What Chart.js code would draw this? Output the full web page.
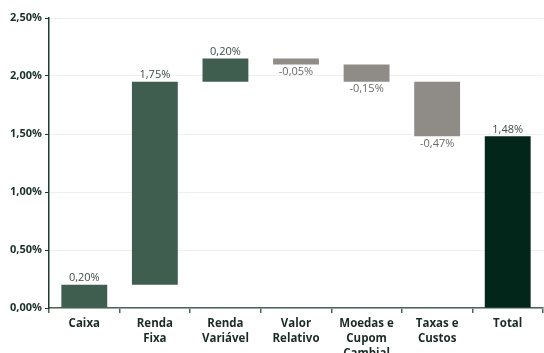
<!DOCTYPE html>
<html>
<head>
<meta charset="utf-8">
<script src="https://cdn.jsdelivr.net/npm/chart.js@4.4.1/dist/chart.umd.min.js"></script>
<style>
  html, body { margin: 0; padding: 0; background: #fff; overflow: hidden; }
  #wrap { position: relative; width: 544px; height: 353px; }
</style>
</head>
<body>
<div id="wrap"><canvas id="chart1"></canvas></div>
<script>
// categorias e contribuicoes (em %)
var categories = [['Caixa'], ['Renda', 'Fixa'], ['Renda', 'Variável'], ['Valor', 'Relativo'], ['Moedas e', 'Cupom', 'Cambial'], ['Taxas e', 'Custos'], ['Total']];
var deltas = [0.20, 1.75, 0.20, -0.05, -0.15, -0.47];
var total = 1.48;
var yTicks = [0, 0.5, 1.0, 1.5, 2.0, 2.5];

var green = '#3f5e50', gray = '#8f8b87', dark = '#03261a';

// monta as barras flutuantes [inicio, fim]
var ranges = [], colors = [], labels = [], run = 0;
for (var i = 0; i < deltas.length; i++) {
    ranges.push([run, run + deltas[i]]);
    run = run + deltas[i];
    colors.push(deltas[i] >= 0 ? green : gray);
    labels.push(deltas[i]);
}
ranges.push([0, total]);
colors.push(dark);
labels.push(total);

function fmt(v) {
    return v.toFixed(2).replace('.', ',') + '%';
}

// rotulos dos valores acima/abaixo das barras
var valueLabels = {
    id: 'valueLabels',
    afterDatasetsDraw: function (chart) {
        var ctx = chart.ctx;
        var meta = chart.getDatasetMeta(0);
        ctx.save();
        ctx.font = '11px "Open Sans"';
        ctx.textAlign = 'center';
        meta.data.forEach(function (bar, idx) {
            var v = labels[idx];
            var r = ranges[idx];
            if (v >= 0) {
                ctx.fillStyle = '#3b4d45';
                ctx.textBaseline = 'bottom';
                ctx.fillText(fmt(v), bar.x, chart.scales.y.getPixelForValue(Math.max(r[0], r[1])) - 1);
            } else {
                ctx.fillStyle = '#6b6b6b';
                ctx.textBaseline = 'top';
                ctx.fillText(fmt(v), bar.x, chart.scales.y.getPixelForValue(Math.min(r[0], r[1])) + 2);
            }
        });
        ctx.restore();
    }
};

new Chart(document.getElementById('chart1'), {
    type: 'bar',
    data: {
        labels: categories,
        datasets: [{
            data: ranges,
            backgroundColor: colors,
            borderWidth: 0,
            barPercentage: 0.65,
            categoryPercentage: 1.0
        }]
    },
    options: {
        responsive: true,
        maintainAspectRatio: false,
        animation: false,
        layout: { padding: { top: 18, right: 1, left: 0, bottom: 0 } },
        plugins: { legend: { display: false }, tooltip: { enabled: false } },
        scales: {
            x: {
                grid: { drawOnChartArea: false, drawTicks: true, tickLength: 5, color: '#4a6458', lineWidth: 1.5 },
                border: { color: '#4a6458', width: 1.5 },
                ticks: { color: '#1b2b24', font: { family: '"Open Sans"', size: 11.5, weight: 'bold', lineHeight: 1.3 }, padding: 3, maxRotation: 0, autoSkip: false },
                afterFit: function (scale) { scale.height = 45; }
            },
            y: {
                min: 0,
                max: 2.5,
                afterBuildTicks: function (scale) {
                    scale.ticks = yTicks.map(function (v) { return { value: v }; });
                },
                grid: { color: '#dedede', tickLength: 4, tickColor: '#1f3a2e', lineWidth: 1 },
                border: { color: '#1f3a2e', width: 1.5, dash: [1, 1] },
                ticks: {
                    color: '#1b3127',
                    font: { family: '"Open Sans"', size: 11, weight: 'bold' },
                    padding: 3,
                    callback: function (v) { return fmt(v); }
                },
                afterFit: function (scale) { scale.width = 49; }
            }
        }
    },
    plugins: [valueLabels]
});
</script>
</body>
</html>
